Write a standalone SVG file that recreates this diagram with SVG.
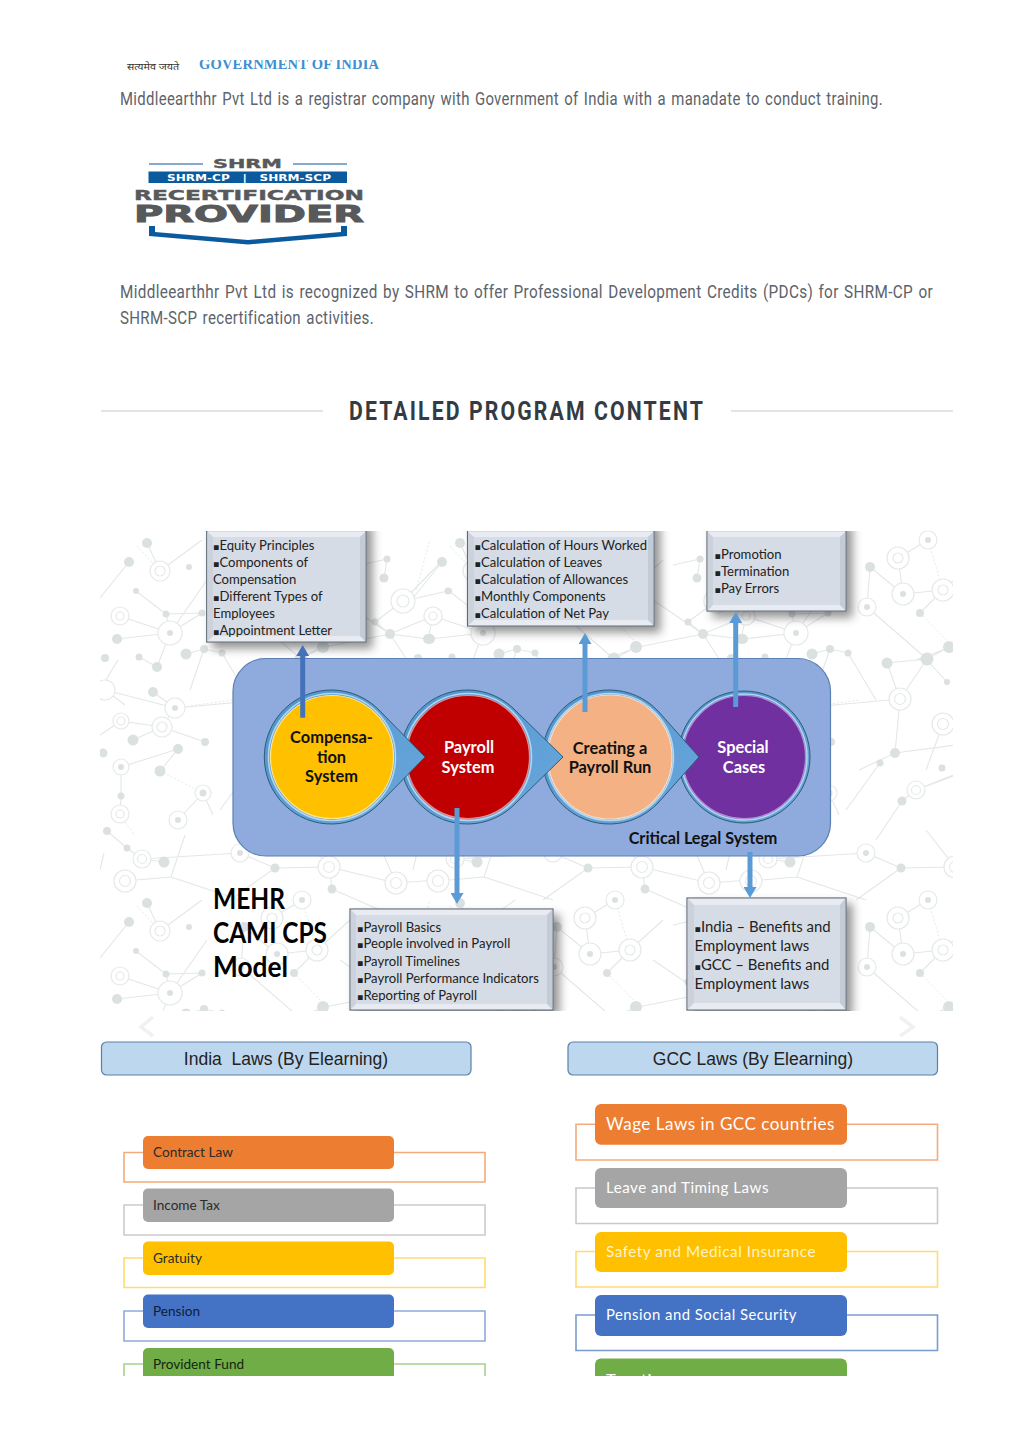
<svg xmlns="http://www.w3.org/2000/svg" width="1024" height="1449" viewBox="0 0 1024 1449">
<style>
.para{font-family:Roboto,"Liberation Sans",sans-serif;font-size:18px;fill:#5c636b;letter-spacing:.4px;word-spacing:1.5px}
.box{font-family:Lato,"Liberation Sans",sans-serif;font-size:13.1px;fill:#222}
.bu{font-family:"DejaVu Sans",sans-serif;font-size:9.500px}
.lbl{font-family:Lato,"Liberation Sans",sans-serif;font-size:16.4px;font-weight:700;text-anchor:middle}
.mehr{font-family:Lato,"Liberation Sans",sans-serif;font-size:28px;font-weight:700;fill:#000}
.hdr{font-family:"Liberation Sans",Arial,sans-serif;font-size:17.5px;fill:#222;text-anchor:middle}
.li{font-family:Lato,"Liberation Sans",sans-serif;font-size:13.6px;fill:#2b2b2b}
.lr{font-family:Lato,"Liberation Sans",sans-serif;font-size:17px;fill:#fff;letter-spacing:.5px}
.logo{font-family:"DejaVu Sans",sans-serif;font-weight:700;fill:#58595b;stroke:#58595b;stroke-width:.4}
.e{fill:none;stroke:#e3e7e8;stroke-width:1.1}
.d{fill:none;stroke:#e6e9ea;stroke-width:1;stroke-dasharray:2 2}
.f{fill:#dbe1e1}
.r{fill:#fff;stroke:#e6e9ea;stroke-width:1.2}
.pan{fill:#8faadc;stroke:#5b80b4;stroke-width:1.2}
.bx{fill:#d6dce5;stroke:#616a75;stroke-width:1.2;filter:url(#sh)}
.bl{fill:#e8ecf2}.bd{fill:#c3cbd6}.bm{fill:#cbd2dc}
.tear{fill:url(#tg);stroke:#2f5b76;stroke-width:1}
.ring{fill:none;stroke:#b5d6ee;stroke-width:1.5}
.arr{fill:none;stroke-width:5}
.bar{stroke-width:1}
.br{fill:none;stroke-width:1.6}
</style>
<defs>
<filter id="sh" x="-15%" y="-15%" width="135%" height="135%"><feDropShadow dx="6" dy="6" stdDeviation="5" flood-color="#000" flood-opacity="0.42"/></filter>
<linearGradient id="tg" x1="0" y1="0" x2="1" y2="1"><stop offset="0" stop-color="#4f94cf"/><stop offset="1" stop-color="#6aa8dc"/></linearGradient>
<marker id="ad" markerUnits="userSpaceOnUse" markerWidth="13" markerHeight="13" refX="1" refY="6.500" orient="auto"><path d="M0 0L11 6.500L0 13Z" fill="#4472b8"/></marker>
<marker id="al" markerUnits="userSpaceOnUse" markerWidth="13" markerHeight="13" refX="1" refY="6.500" orient="auto"><path d="M0 0L11 6.500L0 13Z" fill="#5b9bd5"/></marker>
<clipPath id="imgc"><rect x="100" y="531" width="853" height="480"/></clipPath>
<clipPath id="govc"><rect x="190" y="60" width="200" height="12"/></clipPath>
<clipPath id="botc"><rect x="100" y="1090" width="853" height="286"/></clipPath>
<g id="tile">
<path class="e" d="M147 543L160 571M129 562L100 598M160 571L202 540M136 591L166 614L170 633M120 616L170 633M170 633L157 667M170 633L117 639M170 633L202 613L166 614M170 633L207 580M186 654L204 649L222 653M139 657L157 667M175 708L153 692M175 708L162 727M175 708L105 690M175 708L274 699M162 727L121 721M162 727L133 740M162 727L205 742M178 749L121 767M160 771L178 749M121 767L121 796L120 814M203 793L178 820M203 793L213 815M100 690L118 660M105 690L125 705M121 721L100 735M272 558L277 594M244 567L277 594M277 594L317 590M241 607L301 659M261 663L301 659M301 659L274 699M261 663L274 699M301 659L323 647M274 699L269 753M269 753L330 745M269 753L233 770M254 763L220 810M290 790L276 801M276 801L250 840M290 790L330 775M403 601L375 622M403 601L433 570M387 559L360 565M387 559L384 578M375 622L390 634L428 639M390 634L340 600M390 634L420 680M390 634L325 647L290 660M433 616L428 639M433 616L390 634M403 601L448 591M441 562L403 601M107 831L127 848L142 859M104 853L100 870M142 859L240 853M142 859L164 862M171 877L125 881M171 877L240 900M171 877L185 835M275 868L329 867L396 883M275 868L240 853M275 868L230 900M329 867L332 889M329 867L300 830M396 883L437 880M396 883L375 835M332 889L380 910M244 567L241 607M317 590L350 560M290 790L340 770M204 649L190 690M222 653L250 700M317 724L300 770M321 682L300 659M317 590L294 613M272 558L302 540"/>
<path class="d" d="M160 571L136 545M302 540L317 590M294 613L325 645M160 771L203 793M175 708L233 700M120 816L135 835M416 590L430 540"/>
<g class="f"><circle cx="129" cy="562" r="5"/><circle cx="147" cy="543" r="5"/><circle cx="189" cy="567" r="3"/><circle cx="136" cy="591" r="3"/><circle cx="166" cy="614" r="3.500"/><circle cx="117" cy="639" r="5"/><circle cx="202" cy="613" r="3.500"/><circle cx="186" cy="654" r="5.500"/><circle cx="204" cy="649" r="4"/><circle cx="222" cy="653" r="3.500"/><circle cx="157" cy="667" r="5"/><circle cx="139" cy="657" r="3.500"/><circle cx="105" cy="658" r="4"/><circle cx="153" cy="692" r="5"/><circle cx="133" cy="740" r="5.500"/><circle cx="178" cy="749" r="5"/><circle cx="160" cy="771" r="5.500"/><circle cx="121" cy="796" r="3.500"/><circle cx="205" cy="742" r="4"/><circle cx="103" cy="753" r="4.500"/><circle cx="244" cy="567" r="5"/><circle cx="294" cy="613" r="4"/><circle cx="301" cy="659" r="6.500"/><circle cx="261" cy="663" r="5.500"/><circle cx="269" cy="753" r="5"/><circle cx="254" cy="763" r="3.500"/><circle cx="316" cy="768" r="3.500"/><circle cx="276" cy="801" r="4.500"/><circle cx="323" cy="647" r="6"/><circle cx="321" cy="682" r="3"/><circle cx="387" cy="559" r="3.500"/><circle cx="384" cy="578" r="4.500"/><circle cx="375" cy="622" r="3.500"/><circle cx="390" cy="634" r="5"/><circle cx="428" cy="639" r="5"/><circle cx="107" cy="831" r="4"/><circle cx="127" cy="848" r="3.500"/><circle cx="164" cy="862" r="5.500"/><circle cx="332" cy="889" r="4.500"/><circle cx="275" cy="868" r="4.500"/><circle cx="448" cy="591" r="3.500"/></g>
<g class="r"><circle cx="160" cy="571" r="10"/><circle cx="160" cy="571" r="5"/><circle cx="170" cy="633" r="12"/><circle cx="120" cy="616" r="9"/><circle cx="120" cy="616" r="4"/><circle cx="175" cy="708" r="10"/><circle cx="162" cy="727" r="10"/><circle cx="162" cy="727" r="5"/><circle cx="121" cy="721" r="8"/><circle cx="121" cy="721" r="4"/><circle cx="121" cy="767" r="8"/><circle cx="120" cy="814" r="9"/><circle cx="120" cy="814" r="4"/><circle cx="105" cy="690" r="10"/><circle cx="203" cy="793" r="8"/><circle cx="178" cy="820" r="9"/><circle cx="272" cy="558" r="11"/><circle cx="272" cy="558" r="5"/><circle cx="302" cy="540" r="9"/><circle cx="277" cy="594" r="11"/><circle cx="317" cy="590" r="11"/><circle cx="317" cy="590" r="5"/><circle cx="241" cy="607" r="9"/><circle cx="274" cy="699" r="11"/><circle cx="274" cy="699" r="5.500"/><circle cx="317" cy="724" r="11"/><circle cx="317" cy="724" r="5.500"/><circle cx="290" cy="790" r="9"/><circle cx="290" cy="790" r="4.500"/><circle cx="403" cy="601" r="12"/><circle cx="403" cy="601" r="6"/><circle cx="433" cy="616" r="9"/><circle cx="433" cy="616" r="4"/><circle cx="329" cy="867" r="11"/><circle cx="329" cy="867" r="5.500"/><circle cx="396" cy="883" r="11"/><circle cx="396" cy="883" r="5.500"/><circle cx="240" cy="853" r="9"/><circle cx="142" cy="859" r="9"/><circle cx="142" cy="859" r="4.500"/><circle cx="125" cy="881" r="11"/><circle cx="125" cy="881" r="5.500"/></g>
<g class="f"><circle cx="170" cy="633" r="3"/><circle cx="175" cy="708" r="3"/><circle cx="121" cy="767" r="3"/><circle cx="203" cy="793" r="3.500"/><circle cx="178" cy="820" r="3"/><circle cx="277" cy="594" r="3"/><circle cx="302" cy="540" r="3"/><circle cx="241" cy="607" r="3"/><circle cx="240" cy="853" r="3"/></g>
</g>
</defs>
<rect width="1024" height="1449" fill="#fff"/>

<g id="gov-logo">
<text x="127" y="70" font-family="'Noto Sans','Liberation Serif',serif" font-size="10" fill="#333" textLength="52" lengthAdjust="spacingAndGlyphs">सत्यमेव जयते</text>
<g clip-path="url(#govc)"><text x="199" y="69" font-family="'Liberation Serif',serif" font-size="14.500" font-weight="700" fill="#3d8fd1" textLength="180" lengthAdjust="spacing">GOVERNMENT OF INDIA</text></g>
</g>
<text class="para" transform="translate(120 105) scale(.87 1)" x="0" y="0" textLength="877" lengthAdjust="spacingAndGlyphs">Middleearthhr Pvt Ltd is a registrar company with Government of India with a manadate to conduct training.</text>

<g id="shrm-logo">
<text class="logo" x="213" y="168" font-size="13" textLength="69" lengthAdjust="spacingAndGlyphs">SHRM</text>
<path d="M149 164H203M293 164H347" stroke="#0c5a9e" stroke-width="1.200" fill="none"/>
<rect x="148.500" y="171.500" width="198.500" height="11.500" fill="#0c5a9e"/>
<text x="249" y="180.500" font-family="'DejaVu Sans',sans-serif" font-weight="700" font-size="8" fill="#fff" text-anchor="middle" textLength="164" lengthAdjust="spacingAndGlyphs" xml:space="preserve">SHRM-CP   |   SHRM-SCP</text>
<text class="logo" x="134" y="199.500" font-size="14.500" textLength="230" lengthAdjust="spacingAndGlyphs">RECERTIFICATION</text>
<text class="logo" x="134" y="221.700" font-size="22.500" textLength="230" lengthAdjust="spacingAndGlyphs" style="stroke-width:.9">PROVIDER</text>
<polygon points="149,226 155,226 155,232 248,240 341,232 341,226 347,226 347,236 248,244.500 149,236" fill="#0c5a9e"/>
</g>

<text class="para" transform="translate(120 298) scale(.87 1)" x="0" y="0" textLength="934.500" lengthAdjust="spacingAndGlyphs">Middleearthhr Pvt Ltd is recognized by SHRM to offer Professional Development Credits (PDCs) for SHRM-CP or</text>
<text class="para" transform="translate(120 324) scale(.87 1)" x="0" y="0" textLength="292" lengthAdjust="spacingAndGlyphs">SHRM-SCP recertification activities.</text>

<g id="heading">
<path d="M101 411H323M731 411H953" stroke="#dcdcdc" stroke-width="1.500" fill="none"/>
<text x="349" y="420" font-family="Roboto,'Liberation Sans',sans-serif" font-size="25" font-weight="700" fill="#333b44" letter-spacing="2.5" textLength="356" lengthAdjust="spacingAndGlyphs">DETAILED PROGRAM CONTENT</text>
</g>

<g clip-path="url(#imgc)">
<g id="network">
<use href="#tile"/><use href="#tile" x="313"/><use href="#tile" x="626"/>
<use href="#tile" y="360"/><use href="#tile" x="313" y="360"/><use href="#tile" x="626" y="360"/>
</g>

<g id="panel"><rect class="pan" x="233" y="658.500" width="597.500" height="197.500" rx="33"/>
<text class="lbl" x="703" y="844" fill="#111" style="font-size:16.2px">Critical Legal System</text></g>

<g id="node-special">
<circle class="tear" cx="744" cy="757" r="66"/><circle class="ring" cx="744" cy="757" r="63"/><circle cx="744" cy="757" r="61.500" fill="#7030a0" stroke="#b58bd6" stroke-width="1.200"/>
<text class="lbl" x="743" y="753" fill="#fff">Special</text><text class="lbl" x="744" y="773" fill="#fff">Cases</text>
</g>
<g id="node-creating">
<path class="tear" d="M658 711L699 757L658 803A67 67 0 1 1 658 711Z"/><circle class="ring" cx="610" cy="757" r="63.500"/><circle cx="610" cy="757" r="62" fill="#f4b183" stroke="#fbe0c8" stroke-width="1.200"/>
<text class="lbl" x="610" y="754" fill="#111">Creating a</text><text class="lbl" x="610" y="773" fill="#111">Payroll Run</text>
</g>
<g id="node-payroll">
<path class="tear" d="M516 711L563 757L516 803A67 67 0 1 1 516 711Z"/><circle class="ring" cx="468" cy="757" r="63.500"/><circle cx="468" cy="757" r="61.500" fill="#c00000" stroke="#e98a8a" stroke-width="1.200"/>
<text class="lbl" x="469" y="753" fill="#fff">Payroll</text><text class="lbl" x="468" y="773" fill="#fff">System</text>
</g>
<g id="node-compensation">
<path class="tear" d="M380 711L425 757L380 803A67 67 0 1 1 380 711Z"/><circle class="ring" cx="332" cy="757" r="63.500"/><circle cx="332" cy="757" r="61.500" fill="#ffc000" stroke="#ffe58a" stroke-width="1.200"/>
<text class="lbl" x="331.500" y="743" fill="#111">Compensa-</text><text class="lbl" x="331.500" y="763" fill="#111">tion</text><text class="lbl" x="331.500" y="782" fill="#111">System</text>
</g>

<g id="box-compensation">
<rect class="bx" x="206.700" y="520" width="159.300" height="122"/>
<polygon class="bl" points="207.400,532 365.300,532 360,537 213,537"/><polygon class="bl" points="207.400,641.300 365.300,641.300 360,636 213,636"/>
<polygon class="bm" points="207.400,532 213,537 213,636 207.400,641.300"/><polygon class="bd" points="365.300,532 360,537 360,636 365.300,641.300"/>
<text class="box"><tspan x="213" y="549.500"><tspan class="bu">▪</tspan>Equity Principles</tspan><tspan x="213" y="566.500"><tspan class="bu">▪</tspan>Components  of</tspan><tspan x="213" y="583.500">Compensation</tspan><tspan x="213" y="600.500"><tspan class="bu">▪</tspan>Different Types of</tspan><tspan x="213" y="618">Employees</tspan><tspan x="213" y="635"><tspan class="bu">▪</tspan>Appointment Letter</tspan></text>
</g>
<g id="box-calculation">
<rect class="bx" x="467.500" y="520" width="186.500" height="106"/>
<polygon class="bl" points="468.200,532 653.300,532 648,537 474,537"/><polygon class="bl" points="468.200,625.300 653.300,625.300 648,620 474,620"/>
<polygon class="bm" points="468.200,532 474,537 474,620 468.200,625.300"/><polygon class="bd" points="653.300,532 648,537 648,620 653.300,625.300"/>
<text class="box"><tspan x="474.500" y="549.500"><tspan class="bu">▪</tspan>Calculation of Hours Worked</tspan><tspan x="474.500" y="566.500"><tspan class="bu">▪</tspan>Calculation of Leaves</tspan><tspan x="474.500" y="583.500"><tspan class="bu">▪</tspan>Calculation of Allowances</tspan><tspan x="474.500" y="600.500"><tspan class="bu">▪</tspan>Monthly Components</tspan><tspan x="474.500" y="618"><tspan class="bu">▪</tspan>Calculation of Net Pay</tspan></text>
</g>
<g id="box-special">
<rect class="bx" x="707" y="520" width="139" height="91"/>
<polygon class="bl" points="707.700,532 845.300,532 840,537 713,537"/><polygon class="bl" points="707.700,610.300 845.300,610.300 840,605 713,605"/>
<polygon class="bm" points="707.700,532 713,537 713,605 707.700,610.300"/><polygon class="bd" points="845.300,532 840,537 840,605 845.300,610.300"/>
<text class="box"><tspan x="714.500" y="558.500"><tspan class="bu">▪</tspan>Promotion</tspan><tspan x="714.500" y="575.500"><tspan class="bu">▪</tspan>Termination</tspan><tspan x="714.500" y="592.500"><tspan class="bu">▪</tspan>Pay Errors</tspan></text>
</g>
<g id="box-payroll">
<rect class="bx" x="350" y="909" width="203" height="101"/>
<polygon class="bl" points="350.700,909.700 552.300,909.700 547,915 356,915"/><polygon class="bl" points="350.700,1009.300 552.300,1009.300 547,1004 356,1004"/>
<polygon class="bm" points="350.700,909.700 356,915 356,1004 350.700,1009.300"/><polygon class="bd" points="552.300,909.700 547,915 547,1004 552.300,1009.300"/>
<text class="box"><tspan x="357" y="931.500"><tspan class="bu">▪</tspan>Payroll Basics</tspan><tspan x="357" y="948"><tspan class="bu">▪</tspan>People involved in Payroll</tspan><tspan x="357" y="965.500"><tspan class="bu">▪</tspan>Payroll Timelines</tspan><tspan x="357" y="982.500"><tspan class="bu">▪</tspan>Payroll Performance Indicators</tspan><tspan x="357" y="999.500"><tspan class="bu">▪</tspan>Reporting of Payroll</tspan></text>
</g>
<g id="box-legal">
<rect class="bx" x="687" y="898" width="159" height="112"/>
<polygon class="bl" points="687.700,898.700 845.300,898.700 840,905 694,905"/><polygon class="bl" points="687.700,1009.300 845.300,1009.300 840,1003 694,1003"/>
<polygon class="bm" points="687.700,898.700 694,905 694,1003 687.700,1009.300"/><polygon class="bd" points="845.300,898.700 840,905 840,1003 845.300,1009.300"/>
<text class="box" style="font-size:14.900px"><tspan x="694.500" y="931.500"><tspan class="bu">▪</tspan>India – Benefits and</tspan><tspan x="694.500" y="950.500">Employment laws</tspan><tspan x="694.500" y="969.500"><tspan class="bu">▪</tspan>GCC – Benefits and</tspan><tspan x="694.500" y="989">Employment laws</tspan></text>
</g>

<g id="connectors">
<path class="arr" stroke="#4472b8" marker-end="url(#ad)" d="M302.700 717.700V655"/>
<path class="arr" stroke="#5b9bd5" marker-end="url(#al)" d="M457 808V894"/>
<path class="arr" stroke="#5b9bd5" marker-end="url(#al)" d="M585 712V643"/>
<path class="arr" stroke="#5b9bd5" marker-end="url(#al)" d="M735.700 707V622"/>
<path class="arr" stroke="#5b9bd5" marker-end="url(#al)" d="M750 852V888"/>
</g>

<g id="model-title" class="mehr"><text x="213" y="909" textLength="72" lengthAdjust="spacingAndGlyphs">MEHR</text><text x="213" y="943" textLength="114" lengthAdjust="spacingAndGlyphs">CAMI CPS</text><text x="213" y="977" textLength="75" lengthAdjust="spacingAndGlyphs">Model</text></g>
</g>

<g id="chevrons" fill="none" stroke="#f1f1f1" stroke-width="3.500"><path d="M153 1017L141 1027L153 1036"/><path d="M900 1017L913 1027L900 1036"/></g>

<g id="india-header"><rect x="101.500" y="1042" width="369.500" height="33" rx="5" fill="#bdd7ee" stroke="#5a82a8" stroke-width="1.200"/><text class="hdr" x="286" y="1065" xml:space="preserve">India  Laws (By Elearning)</text></g>
<g id="gcc-header"><rect x="568" y="1042" width="369.500" height="33" rx="5" fill="#bdd7ee" stroke="#5a82a8" stroke-width="1.200"/><text class="hdr" x="753" y="1065">GCC Laws (By Elearning)</text></g>

<g clip-path="url(#botc)">
<g id="india-contract"><path class="br" stroke="#f2ab7c" d="M143 1152.500H124V1182H485V1152.500H394"/><rect class="bar" x="143" y="1136" width="251" height="33" rx="5" fill="#ed7d31"/><text class="li" x="153" y="1157">Contract Law</text></g>
<g id="india-income"><path class="br" stroke="#cbcbcb" d="M143 1205H124V1235H485V1205H394"/><rect class="bar" x="143" y="1188.500" width="251" height="33.500" rx="5" fill="#a5a5a5"/><text class="li" x="153" y="1210">Income Tax</text></g>
<g id="india-gratuity"><path class="br" stroke="#ffdb70" d="M143 1258H124V1287.500H485V1258H394"/><rect class="bar" x="143" y="1241.500" width="251" height="33.500" rx="5" fill="#ffc000"/><text class="li" x="153" y="1263">Gratuity</text></g>
<g id="india-pension"><path class="br" stroke="#8faadc" d="M143 1311H124V1341H485V1311H394"/><rect class="bar" x="143" y="1294.500" width="251" height="33.500" rx="5" fill="#4472c4"/><text class="li" x="153" y="1316" style="fill:#101d3a">Pension</text></g>
<g id="india-provident"><path class="br" stroke="#a9d18e" d="M143 1364H124V1394H485V1364H394"/><rect class="bar" x="143" y="1348" width="251" height="33.500" rx="5" fill="#70ad47"/><text class="li" x="153" y="1369" style="fill:#16260c">Provident Fund</text></g>

<g id="gcc-wage"><path class="br" stroke="#f2ab7c" d="M595 1124.300H576V1160H937.500V1124.300H847"/><rect class="bar" x="595" y="1104" width="252" height="40.700" rx="6" fill="#ed7d31"/><text class="lr" x="606" y="1130" textLength="229" lengthAdjust="spacingAndGlyphs">Wage Laws in GCC countries</text></g>
<g id="gcc-leave"><path class="br" stroke="#c7c9ce" d="M595 1188H576V1223.500H937.500V1188H847"/><rect class="bar" x="595" y="1168" width="252" height="40" rx="6" fill="#a5a5a5"/><text class="lr" x="606" y="1193" textLength="163" lengthAdjust="spacingAndGlyphs" style="font-size:15px">Leave and Timing Laws</text></g>
<g id="gcc-safety"><path class="br" stroke="#ffdb70" d="M595 1251.500H576V1287H937.500V1251.500H847"/><rect class="bar" x="595" y="1232" width="252" height="40" rx="6" fill="#ffc000"/><text class="lr" x="606" y="1256.500" textLength="210" lengthAdjust="spacingAndGlyphs" style="fill:#fff3c8;font-size:15px">Safety and Medical Insurance</text></g>
<g id="gcc-pension"><path class="br" stroke="#7c9bd0" d="M595 1315H576V1350.500H937.500V1315H847"/><rect class="bar" x="595" y="1295" width="252" height="41" rx="6" fill="#4472c4"/><text class="lr" x="606" y="1320" textLength="191" lengthAdjust="spacingAndGlyphs" style="font-size:15px">Pension and Social Security</text></g>
<g id="gcc-taxation"><rect class="bar" x="595" y="1358.500" width="252" height="40" rx="6" fill="#70ad47"/><text class="lr" x="606" y="1385" textLength="66" lengthAdjust="spacingAndGlyphs" style="font-size:15px">Taxation</text></g>
</g>
</svg>
